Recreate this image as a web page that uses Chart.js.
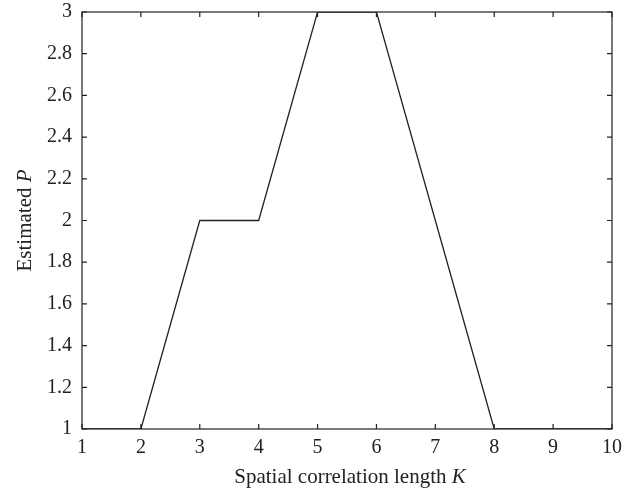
<!DOCTYPE html>
<html>
<head>
<meta charset="utf-8">
<script src="https://cdn.jsdelivr.net/npm/chart.js@4/dist/chart.umd.min.js"></script>
<style>
  html, body { margin: 0; padding: 0; background: #fff; }
  #wrap { width: 633px; height: 490px; }
</style>
</head>
<body>
<div id="wrap"><canvas id="chart" width="633" height="490"></canvas></div>
<script>
// data
const kValues = [1, 2, 3, 4, 5, 6, 7, 8, 9, 10];
const estimatedP = [1, 1, 2, 2, 3, 3, 2, 1, 1, 1];
const xTicks = [1, 2, 3, 4, 5, 6, 7, 8, 9, 10];
const yTicks = [1, 1.2, 1.4, 1.6, 1.8, 2, 2.2, 2.4, 2.6, 2.8, 3];

const FONT = 'Liberation Serif';
const INK = '#222';

// inward ticks on all four sides, the box, and axis titles with italic symbols
const frameTicks = {
    id: 'frameTicks',
    afterDraw(chart) {
        const ctx = chart.ctx;
        const a = chart.chartArea;
        const xs = chart.scales.x, ys = chart.scales.y;
        const len = 5;
        ctx.save();
        ctx.strokeStyle = INK;
        ctx.lineWidth = 1.2;
        ctx.strokeRect(a.left, a.top, a.right - a.left, a.bottom - a.top);
        ctx.beginPath();
        xTicks.forEach(v => {
            const px = xs.getPixelForValue(v);
            ctx.moveTo(px, a.bottom); ctx.lineTo(px, a.bottom - len);
            ctx.moveTo(px, a.top); ctx.lineTo(px, a.top + len);
        });
        yTicks.forEach(v => {
            const py = ys.getPixelForValue(v);
            ctx.moveTo(a.left, py); ctx.lineTo(a.left + len, py);
            ctx.moveTo(a.right, py); ctx.lineTo(a.right - len, py);
        });
        ctx.stroke();

        // axis titles
        const drawTitle = (plain, ital, cx, cy, rot) => {
            ctx.save();
            ctx.translate(cx, cy);
            ctx.rotate(rot);
            ctx.fillStyle = INK;
            ctx.textBaseline = 'alphabetic';
            ctx.textAlign = 'left';
            const fN = '21px "' + FONT + '"';
            const fI = 'italic 21px "' + FONT + '"';
            ctx.font = fN;
            const w1 = ctx.measureText(plain).width;
            ctx.font = fI;
            const w2 = ctx.measureText(ital).width;
            const x0 = -(w1 + w2) / 2;
            ctx.font = fN;
            ctx.fillText(plain, x0, 0);
            ctx.font = fI;
            ctx.fillText(ital, x0 + w1, 0);
            ctx.restore();
        };
        drawTitle('Spatial correlation length ', 'K', (a.left + a.right) / 2 + 3, 483, 0);
        drawTitle('Estimated ', 'P', 31, (a.top + a.bottom) / 2, -Math.PI / 2);
        ctx.restore();
    }
};

new Chart(document.getElementById('chart'), {
    type: 'scatter',
    data: {
        datasets: [{
            data: kValues.map((k, i) => ({x: k, y: estimatedP[i]})),
            showLine: true,
            borderColor: INK,
            borderWidth: 1.3,
            pointRadius: 0,
            tension: 0
        }]
    },
    options: {
        responsive: false,
        animation: false,
        layout: {padding: {top: 12, right: 21, left: 0, bottom: 0}},
        plugins: {
            legend: {display: false},
            tooltip: {enabled: false}
        },
        scales: {
            x: {
                type: 'linear',
                min: 1,
                max: 10,
                afterBuildTicks: s => { s.ticks = xTicks.map(v => ({value: v})); },
                afterFit: s => { s.height = 61; s.paddingLeft = 0; s.paddingRight = 0; },
                grid: {display: false, drawTicks: false},
                border: {display: false},
                ticks: {
                    color: INK,
                    padding: 7,
                    maxRotation: 0,
                    font: {family: FONT, size: 20}
                }
            },
            y: {
                min: 1,
                max: 3,
                afterBuildTicks: s => { s.ticks = yTicks.map(v => ({value: v})); },
                afterFit: s => { s.width = 82; s.paddingTop = 0; s.paddingBottom = 0; },
                grid: {display: false, drawTicks: false},
                border: {display: false},
                ticks: {
                    color: INK,
                    padding: 10,
                    callback: v => String(Math.round(v * 10) / 10),
                    font: {family: FONT, size: 20}
                }
            }
        }
    },
    plugins: [frameTicks]
});
</script>
</body>
</html>
